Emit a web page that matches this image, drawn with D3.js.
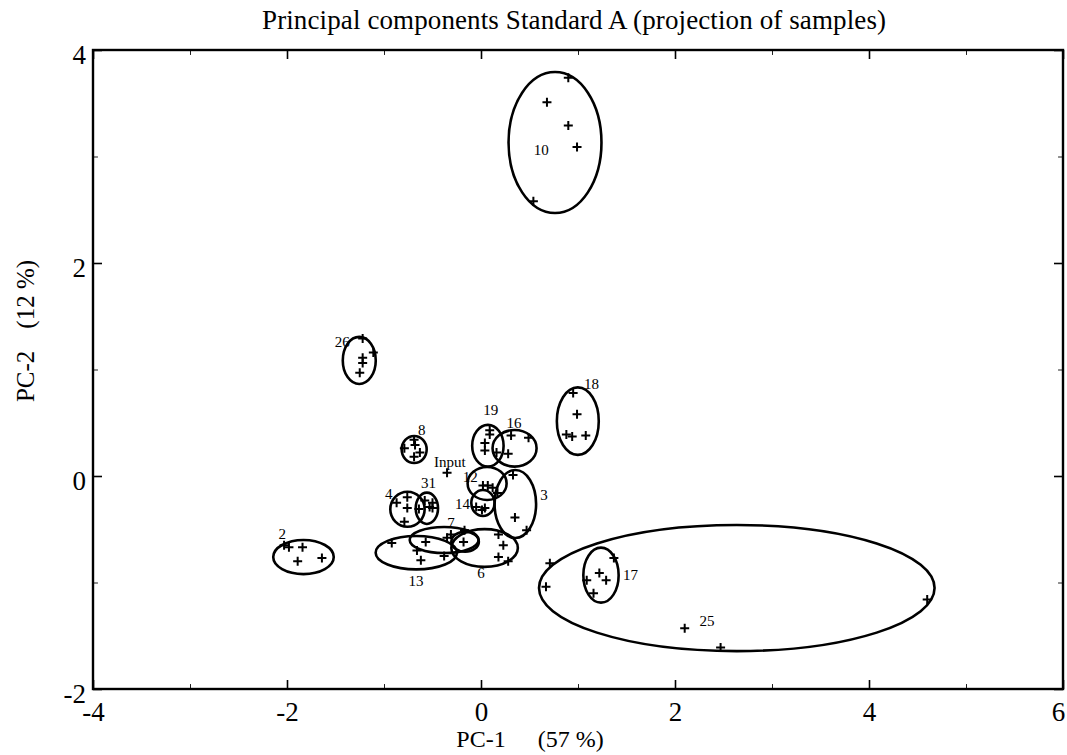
<!DOCTYPE html>
<html lang="en">
<head>
<meta charset="UTF-8">
<title>Principal components Standard A</title>
<script src="https://d3js.org/d3.v7.min.js"></script>
<style>
    body { margin: 0; background: white; }
    svg { display: block; font-family: 'Liberation Serif', 'DejaVu Serif', serif; }
</style>
</head>
<body>
<svg width="1067" height="755"></svg>
<script>
// sample projections [PC-1, PC-2]
const samplePoints = [
    // 10
    [0.90, 3.74], [0.68, 3.51], [0.90, 3.29], [0.99, 3.09], [0.54, 2.58],
    // 26
    [-1.22, 1.29], [-1.11, 1.16], [-1.22, 1.11], [-1.22, 1.06], [-1.25, 0.97],
    // 8
    [-0.69, 0.34], [-0.68, 0.29], [-0.79, 0.26], [-0.63, 0.22], [-0.69, 0.18],
    // Input
    [-0.35, 0.03],
    // 19
    [0.09, 0.43], [0.09, 0.39], [0.04, 0.31], [0.04, 0.24], [0.16, 0.22],
    // 16
    [0.31, 0.38], [0.49, 0.36], [0.28, 0.21],
    // 18
    [0.95, 0.78], [0.99, 0.58], [0.88, 0.39], [0.94, 0.37], [1.08, 0.38],
    // 12
    [0.02, -0.09], [0.07, -0.09], [0.12, -0.11], [0.17, -0.16],
    // 14
    [-0.05, -0.29], [0.01, -0.32], [0.04, -0.30],
    // 3
    [0.33, 0.01], [0.35, -0.39], [0.47, -0.51],
    // 4
    [-0.87, -0.25], [-0.76, -0.20], [-0.76, -0.30], [-0.64, -0.31], [-0.79, -0.43],
    // 31
    [-0.58, -0.23], [-0.50, -0.25], [-0.50, -0.30], [-0.53, -0.29],
    // 2
    [-2.03, -0.65], [-1.98, -0.67], [-1.84, -0.67], [-1.89, -0.80], [-1.64, -0.77],
    // 13
    [-0.92, -0.63], [-0.62, -0.79], [-0.38, -0.75], [-0.66, -0.70], [-0.57, -0.62],
    // 7
    [-0.31, -0.55], [-0.35, -0.58], [-0.18, -0.62], [-0.17, -0.51],
    // 6
    [0.18, -0.55], [0.23, -0.65], [0.18, -0.76], [0.28, -0.80],
    // 17
    [1.37, -0.77], [1.22, -0.91], [1.29, -0.98], [1.09, -0.98], [1.16, -1.10],
    // 25
    [0.71, -0.82], [0.67, -1.04], [4.60, -1.16], [2.10, -1.43], [2.47, -1.61]
];

// confidence ellipses: [centre x, centre y, radius x, radius y]
const ellipses = [
    [0.763, 3.131, 0.479, 0.662],   // 10
    [-1.255, 1.085, 0.170, 0.221],  // 26
    [-0.689, 0.249, 0.129, 0.127],  // 8
    [0.071, 0.284, 0.162, 0.196],   // 19
    [0.346, 0.260, 0.227, 0.172],   // 16
    [0.998, 0.515, 0.216, 0.317],   // 18
    [0.063, -0.070, 0.201, 0.155],  // 12
    [0.020, -0.254, 0.120, 0.122],  // 14
    [0.354, -0.263, 0.214, 0.319],  // 3
    [-0.758, -0.312, 0.177, 0.164], // 4
    [-0.558, -0.303, 0.115, 0.147], // 31
    [-1.830, -0.761, 0.312, 0.160], // 2
    [-0.667, -0.720, 0.419, 0.157], // 13
    [-0.380, -0.601, 0.355, 0.122], // 7
    [-0.164, -0.617, 0.142, 0.094], // 7 (inner)
    [0.037, -0.676, 0.343, 0.177],  // 6
    [1.237, -0.931, 0.182, 0.258],  // 17
    [2.637, -1.052, 2.039, 0.592]   // 25
];

const groupLabels = ["10", "26", "8", "Input", "19", "16", "18", "12", "14", "3",
                     "4", "31", "7", "2", "13", "6", "17", "25"];
const labelX = [0.62, -1.43, -0.61, -0.32, 0.10, 0.34, 1.14, -0.11, -0.19, 0.65,
                -0.95, -0.54, -0.31, -2.05, -0.67, 0.00, 1.54, 2.33];
const labelY = [3.06, 1.26, 0.43, 0.13, 0.62, 0.50, 0.86, -0.01, -0.26, -0.18,
                -0.17, -0.07, -0.44, -0.54, -0.99, -0.91, -0.93, -1.36];

const xTicks = d3.range(-4, 7, 1);
const yTicks = d3.range(-2, 5, 1);

const svg = d3.select("svg"),
    margin = {top: 50, right: 4, bottom: 66, left: 93},
    width = +svg.attr("width") - margin.left - margin.right,
    height = +svg.attr("height") - margin.top - margin.bottom,
    g = svg.append("g").attr("transform", `translate(${margin.left},${margin.top})`);

const x = d3.scaleLinear().domain([-4, 6]).range([0, width]);
const y = d3.scaleLinear().domain([-2, 4]).range([height, 0]);

const evenLabel = d => (d % 2 === 0 ? d : "");
const isEven = d => d % 2 === 0;

// axes with inward ticks
const styleAxis = (sel, major) => {
    sel.select(".domain").remove();
    sel.selectAll(".tick line")
        .attr("stroke", "black")
        .attr("stroke-width", 1.6)
        .attr("transform", d => (major(d) ? null : "scale(0.55)"));
    sel.selectAll(".tick text")
        .attr("fill", "black")
        .style("font-size", "27px")
        .style("font-family", "'Liberation Serif', serif");
};

g.append("g")
    .attr("transform", `translate(0,${height})`)
    .call(d3.axisBottom(x).tickValues(xTicks).tickSize(-9).tickPadding(13).tickFormat(evenLabel))
    .call(a => styleAxis(a, isEven))
    .call(a => a.selectAll(".tick text").filter(d => d === 6).attr("dx", -5));

g.append("g")
    .call(d3.axisTop(x).tickValues(xTicks).tickSize(-9).tickFormat(""))
    .call(a => styleAxis(a, isEven));

g.append("g")
    .call(d3.axisLeft(y).tickValues(yTicks).tickSize(-9).tickPadding(7).tickFormat(evenLabel))
    .call(a => styleAxis(a, isEven))
    .call(a => a.selectAll(".tick text").attr("dy", "0.5em"));

g.append("g")
    .attr("transform", `translate(${width},0)`)
    .call(d3.axisRight(y).tickValues(yTicks).tickSize(-9).tickFormat(""))
    .call(a => styleAxis(a, isEven));

// frame
g.append("rect")
    .attr("width", width)
    .attr("height", height)
    .attr("fill", "none")
    .attr("stroke", "black")
    .attr("stroke-width", 2.4);

// ellipses
g.selectAll(".ell")
    .data(ellipses)
    .join("ellipse")
    .attr("class", "ell")
    .attr("cx", d => x(d[0]))
    .attr("cy", d => y(d[1]))
    .attr("rx", d => x(d[0] + d[2]) - x(d[0]))
    .attr("ry", d => y(d[1] - d[3]) - y(d[1]))
    .attr("fill", "none")
    .attr("stroke", "black")
    .attr("stroke-width", 2.6);

// plus markers
const s = 4.5;
g.selectAll(".pt")
    .data(samplePoints)
    .join("path")
    .attr("class", "pt")
    .attr("d", d => {
        const px = x(d[0]), py = y(d[1]);
        return `M${px - s},${py}H${px + s}M${px},${py - s}V${py + s}`;
    })
    .attr("stroke", "black")
    .attr("stroke-width", 2);

// group labels
g.selectAll(".lab")
    .data(groupLabels)
    .join("text")
    .attr("class", "lab")
    .attr("x", (d, i) => x(labelX[i]))
    .attr("y", (d, i) => y(labelY[i]))
    .attr("text-anchor", "middle")
    .attr("dominant-baseline", "central")
    .style("font-size", "15px")
    .text(d => d);

// title and axis titles
svg.append("text")
    .attr("x", 574)
    .attr("y", 29)
    .attr("text-anchor", "middle")
    .style("font-size", "27px")
    .attr("textLength", 624)
    .text("Principal components Standard A (projection of samples)");

const xt = svg.append("text")
    .attr("x", 530)
    .attr("y", 747)
    .attr("text-anchor", "middle")
    .style("font-size", "24px");
xt.append("tspan").text("PC-1");
xt.append("tspan").attr("dx", 32).text("(57 %)");

const yt = svg.append("text")
    .attr("transform", "translate(34, 331) rotate(-90)")
    .attr("text-anchor", "middle")
    .style("font-size", "25px");
yt.append("tspan").text("PC-2");
yt.append("tspan").attr("dx", 22).text("(12 %)");
</script>
</body>
</html>
